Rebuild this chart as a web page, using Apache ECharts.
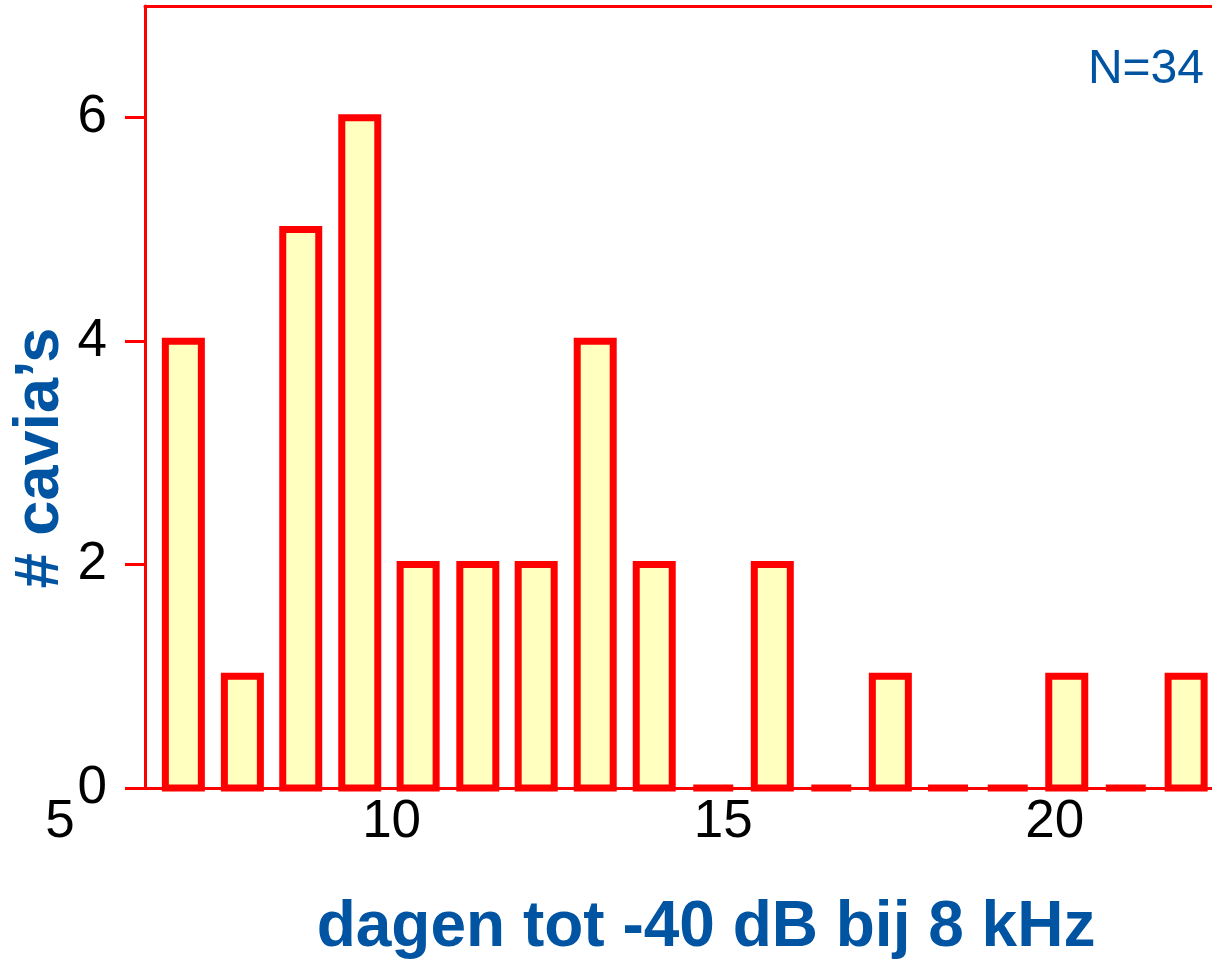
<!DOCTYPE html>
<html>
<head>
<meta charset="utf-8">
<script src="https://cdn.jsdelivr.net/npm/echarts@6/dist/echarts.min.js"></script>
<style>
html,body{margin:0;padding:0;background:#fff;}
#chart{width:1212px;height:962px;}
</style>
</head>
<body>
<div id="chart"></div>
<script>
// bin centres (days) and number of guinea pigs per bin
const binCenters = [6.86, 7.75, 8.63, 9.52, 10.40, 11.30, 12.18, 13.07, 13.96, 14.85, 15.74, 16.63, 17.52, 18.39, 19.29, 20.18, 21.07, 21.98];
const counts     = [4, 1, 5, 6, 2, 2, 2, 4, 2, 0, 2, 0, 1, 0, 0, 1, 0, 1];
const xTickLabels = [5, 10, 15, 20];
const yTickLabels = [0, 2, 4, 6];
const xTitle = 'dagen tot -40 dB bij 8 kHz';
const yTitle = '# cavia\u2019s';
const nLabel = 'N=34';

const FONT = '"Liberation Sans", Arial, sans-serif';
const RED = '#FF0000';
const BLUE = '#0054A2';
const FILL = '#FFFFC0';
const X_MIN = 5, X_MAX = 22.37, Y_MAX = 7;
const BAR_W = 36, BAR_STROKE = 7;

const barData = binCenters.map((x, i) => [x, counts[i]]);

const chart = echarts.init(document.getElementById('chart'), null, {renderer: 'canvas'});
chart.setOption({
  animation: false,
  backgroundColor: '#ffffff',
  grid: [
    {left: 145, right: 0, top: 6, bottom: 174},
    {left: 60, right: 0, top: 6, bottom: 174}
  ],
  xAxis: [
    {gridIndex: 0, type: 'value', position: 'bottom', min: 0, max: 1,
     axisLine: {show: true, lineStyle: {color: RED, width: 3}},
     axisTick: {show: false}, axisLabel: {show: false}, splitLine: {show: false}},
    {gridIndex: 0, type: 'value', position: 'top', min: 0, max: 1,
     axisLine: {show: true, lineStyle: {color: RED, width: 3}},
     axisTick: {show: false}, axisLabel: {show: false}, splitLine: {show: false}},
    {gridIndex: 1, type: 'value', position: 'bottom', min: X_MIN, max: X_MAX, interval: 5,
     axisLine: {show: false}, axisTick: {show: false}, splitLine: {show: false},
     axisLabel: {show: true, customValues: xTickLabels, color: '#000', fontFamily: FONT, fontSize: 53, margin: 8}}
  ],
  yAxis: [
    {gridIndex: 0, type: 'value', min: 0, max: Y_MAX, interval: 1,
     axisLine: {show: true, lineStyle: {color: RED, width: 3}},
     axisTick: {show: true, customValues: yTickLabels, length: 20, inside: false, lineStyle: {color: RED, width: 3}},
     axisLabel: {show: true, customValues: yTickLabels, color: '#000', fontFamily: FONT, fontSize: 53, margin: 38},
     splitLine: {show: false}},
    {gridIndex: 1, type: 'value', min: 0, max: Y_MAX, show: false, splitLine: {show: false}}
  ],
  series: [{
    type: 'custom',
    xAxisIndex: 2, yAxisIndex: 1,
    data: barData,
    encode: {x: 0, y: 1},
    clip: false,
    renderItem: function (params, api) {
      const top = api.coord([api.value(0), api.value(1)]);
      const base = api.coord([api.value(0), 0]);
      const h = base[1] - top[1];
      if (h < 0.5) {
        return {
          type: 'line',
          shape: {x1: base[0] - BAR_W / 2 - 2, y1: base[1], x2: base[0] + BAR_W / 2 + 2, y2: base[1]},
          style: {stroke: RED, lineWidth: BAR_STROKE, lineCap: 'butt'}
        };
      }
      return {
        type: 'rect',
        shape: {x: top[0] - BAR_W / 2, y: top[1], width: BAR_W, height: h},
        style: {fill: FILL, stroke: RED, lineWidth: BAR_STROKE, lineJoin: 'miter'}
      };
    }
  }],
  graphic: [
    {type: 'text', x: 1204, y: 70, style: {text: nLabel, fill: BLUE, font: '48px ' + FONT, align: 'right', verticalAlign: 'middle'}},
    {type: 'text', x: 706, y: 928, style: {text: xTitle, fill: BLUE, font: 'bold 64px ' + FONT, align: 'center', verticalAlign: 'middle'}},
    {type: 'text', x: 41, y: 458, rotation: Math.PI / 2, style: {text: yTitle, fill: BLUE, font: 'bold 63px ' + FONT, align: 'center', verticalAlign: 'middle'}}
  ]
});
</script>
</body>
</html>
